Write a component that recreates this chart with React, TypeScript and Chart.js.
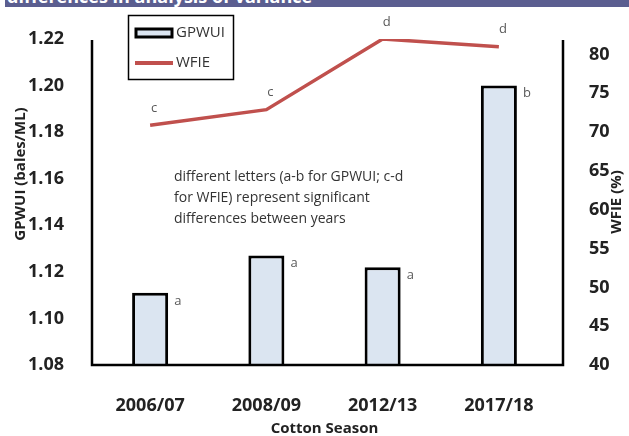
import React, { useEffect, useRef } from 'react';
import { Chart, registerables } from 'chart.js';

Chart.register(...registerables);

const seasons = ['2006/07', '2008/09', '2012/13', '2017/18'];
const gpwui = [1.111, 1.127, 1.122, 1.2];
const wfie = [70.9, 72.9, 82.0, 81.0];
const gpwuiLetters = ['a', 'a', 'a', 'b'];
const wfieLetters = ['c', 'c', 'd', 'd'];
const leftTicks = [1.08, 1.1, 1.12, 1.14, 1.16, 1.18, 1.2, 1.22];
const rightTicks = [40, 45, 50, 55, 60, 65, 70, 75, 80];
const noteLines = [
  'different letters (a-b for GPWUI; c-d',
  'for WFIE) represent significant',
  'differences between years',
];
const bannerText = 'differences in analysis of variance';

const FONT = "'Open Sans', 'Noto Sans', sans-serif";
const TXT = '#222222';
const BAR_FILL = '#dbe5f1';
const LINE_COLOR = '#c0504d';

const overlayPlugin = {
  id: 'overlay',
  afterDatasetsDraw(chart: any) {
    const { ctx, chartArea } = chart;
    const { left, right, top, bottom } = chartArea;
    const rightX = right + 6;
    ctx.save();
    // axis lines
    ctx.strokeStyle = '#000';
    ctx.lineWidth = 2.5;
    ctx.beginPath();
    ctx.moveTo(left, top + 1);
    ctx.lineTo(left, bottom);
    ctx.lineTo(rightX, bottom);
    ctx.lineTo(rightX, top + 1);
    ctx.stroke();

    // significance letters on bars
    ctx.font = `13px ${FONT}`;
    ctx.fillStyle = '#595959';
    ctx.textBaseline = 'middle';
    ctx.textAlign = 'left';
    const barMeta = chart.getDatasetMeta(0);
    barMeta.data.forEach((bar: any, i: number) => {
      ctx.fillText(gpwuiLetters[i], bar.x + bar.width / 2 + 6, bar.y + 8);
    });
    // significance letters on line
    ctx.textAlign = 'center';
    const lineMeta = chart.getDatasetMeta(1);
    lineMeta.data.forEach((pt: any, i: number) => {
      ctx.fillText(wfieLetters[i], pt.x + 4, pt.y - 17);
    });

    // annotation
    ctx.font = `14px ${FONT}`;
    ctx.fillStyle = '#333333';
    ctx.textAlign = 'left';
    ctx.textBaseline = 'alphabetic';
    noteLines.forEach((t, i) => ctx.fillText(t, 174, 181 + i * 21));

    // y axis titles
    ctx.font = `bold 15px ${FONT}`;
    ctx.fillStyle = TXT;
    ctx.textAlign = 'center';
    ctx.textBaseline = 'middle';
    ctx.save();
    ctx.translate(21, 174);
    ctx.rotate(-Math.PI / 2);
    ctx.fillText('GPWUI (bales/ML)', 0, 0);
    ctx.restore();
    ctx.save();
    ctx.translate(617, (top + bottom) / 2);
    ctx.rotate(-Math.PI / 2);
    ctx.fillText('WFIE (%)', 0, 0);
    ctx.restore();

    // legend
    const lx = 128.5, ly = 15.5, lw = 105, lh = 64;
    ctx.fillStyle = '#fff';
    ctx.fillRect(lx, ly, lw, lh);
    ctx.strokeStyle = '#000';
    ctx.lineWidth = 1.5;
    ctx.strokeRect(lx, ly, lw, lh);
    ctx.fillStyle = BAR_FILL;
    ctx.fillRect(136, 29, 36, 8);
    ctx.strokeStyle = '#000';
    ctx.lineWidth = 3;
    ctx.strokeRect(136, 29, 36, 8);
    ctx.strokeStyle = LINE_COLOR;
    ctx.lineWidth = 4;
    ctx.beginPath();
    ctx.moveTo(135, 63);
    ctx.lineTo(173, 63);
    ctx.stroke();
    ctx.font = `15px ${FONT}`;
    ctx.fillStyle = '#333333';
    ctx.textAlign = 'left';
    ctx.textBaseline = 'middle';
    ctx.fillText('GPWUI', 176, 33);
    ctx.fillText('WFIE', 176, 63);
    ctx.restore();
  },
};

export default function App() {
  const ref = useRef<HTMLCanvasElement | null>(null);
  useEffect(() => {
    if (!ref.current) return;
    const tickFont = { family: FONT, size: 18, weight: 'bold' as const };
    const chart = new Chart(ref.current, {
      type: 'bar',
      data: {
        labels: seasons,
        datasets: [
          {
            type: 'bar',
            label: 'GPWUI',
            data: gpwui,
            yAxisID: 'y',
            backgroundColor: BAR_FILL,
            borderColor: '#000',
            borderWidth: 3,
            barPercentage: 0.31,
            categoryPercentage: 1,
            order: 2,
          },
          {
            type: 'line',
            label: 'WFIE',
            data: wfie,
            yAxisID: 'y1',
            borderColor: LINE_COLOR,
            borderWidth: 3.5,
            pointRadius: 0,
            tension: 0,
            order: 1,
          } as any,
        ],
      },
      options: {
        responsive: false,
        animation: false,
        layout: { padding: { top: 39, left: 0, right: 0, bottom: 0 } },
        plugins: { legend: { display: false }, tooltip: { enabled: false } },
        scales: {
          x: {
            offset: true,
            grid: { display: false },
            border: { display: false },
            ticks: { color: TXT, font: tickFont, padding: 22, maxRotation: 0 },
            title: {
              display: true,
              text: 'Cotton Season',
              color: TXT,
              font: { family: FONT, size: 15, weight: 'bold', lineHeight: 1 },
              padding: { top: 0, bottom: 0 },
            },
            afterFit: (s: any) => { s.height = 71; },
          },
          y: {
            position: 'left',
            min: 1.08,
            max: 1.22,
            grid: { display: false },
            border: { display: false },
            ticks: { color: TXT, font: tickFont, padding: 20, callback: (v: any) => Number(v).toFixed(2) },
            afterBuildTicks: (s: any) => { s.ticks = leftTicks.map((v) => ({ value: v })); },
            afterFit: (s: any) => { s.width = 92; },
          },
          y1: {
            position: 'right',
            min: 40,
            max: 82,
            grid: { display: false },
            border: { display: false },
            ticks: { color: TXT, font: tickFont, padding: 24 },
            afterBuildTicks: (s: any) => { s.ticks = rightTicks.map((v) => ({ value: v })); },
            afterFit: (s: any) => { s.width = 72; },
          },
        },
      } as any,
      plugins: [overlayPlugin],
    });
    return () => chart.destroy();
  }, []);

  return (
    <div style={{ position: 'fixed', left: 0, top: 0, width: 629, height: 436, background: '#fff', overflow: 'hidden' }}>
      <canvas ref={ref} width={629} height={436} style={{ position: 'absolute', left: 0, top: 0, width: 629, height: 436 }} />
      <div style={{ position: 'absolute', left: 5, top: 0, width: 624, height: 7, background: '#5b5e90', overflow: 'hidden' }}>
        <div style={{ position: 'absolute', left: 2, top: -13, color: '#fff', fontFamily: FONT, fontWeight: 'bold', fontSize: 18, lineHeight: '18px', whiteSpace: 'nowrap' }}>
          {bannerText}
        </div>
      </div>
    </div>
  );
}
